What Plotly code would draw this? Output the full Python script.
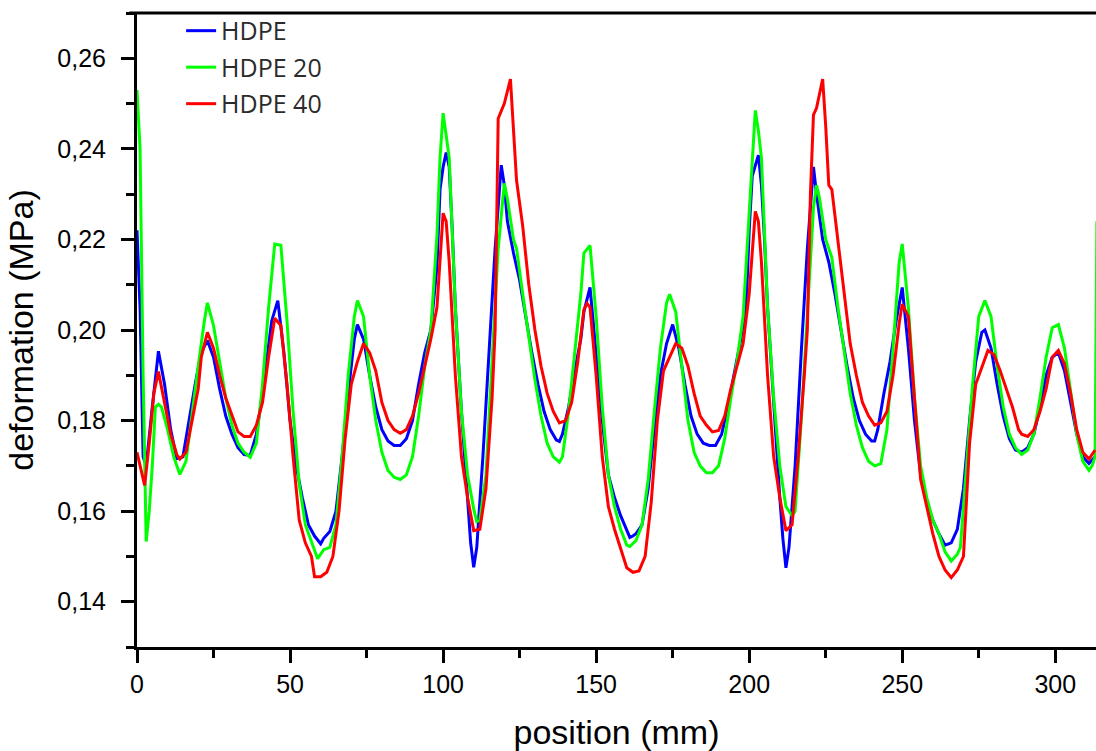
import plotly.graph_objects as go

# ---- data ----
hdpe_x = [0, 1, 2, 3, 5, 7, 9, 11, 13, 15, 17, 19, 21, 23, 25, 27, 29, 31, 33, 35, 37, 39, 41, 43, 44, 46, 48, 50,
          52, 54, 56, 58, 60, 61, 63, 65, 67, 69, 71, 72, 74, 76, 78, 80, 82, 84, 86, 88, 90, 92, 94, 96, 98, 99,
          100, 101, 102, 103, 104, 106, 108, 109, 110, 111, 113, 115, 117, 119, 120, 121, 123, 125, 127, 129, 131,
          133, 135, 137, 138, 139, 141, 143, 145, 146, 148, 150, 152, 154, 156, 158, 160, 161, 162, 163, 165, 167,
          169, 171, 173, 175, 177, 179, 181, 183, 185, 187, 189, 191, 193, 195, 197, 199, 200, 201, 203, 204, 205,
          206, 208, 210, 211, 212, 213, 215, 217, 219, 221, 222, 224, 226, 228, 230, 232, 234, 236, 238, 240, 241,
          242, 244, 246, 248, 250, 252, 254, 256, 258, 260, 262, 264, 266, 268, 270, 272, 274, 276, 277, 279, 281,
          283, 285, 287, 289, 291, 293, 295, 297, 299, 301, 303, 305, 307, 309, 311, 313]
hdpe_y = [0.222, 0.205, 0.172, 0.170, 0.183, 0.1953, 0.188, 0.178, 0.1716, 0.172, 0.180, 0.188, 0.195, 0.1977,
          0.194, 0.187, 0.181, 0.177, 0.174, 0.1725, 0.1723, 0.177, 0.186, 0.196, 0.202, 0.2065, 0.195, 0.180,
          0.170, 0.163, 0.157, 0.1545, 0.1528, 0.154, 0.1555, 0.160, 0.172, 0.186, 0.198, 0.2012, 0.198, 0.190,
          0.183, 0.178, 0.1755, 0.1745, 0.1745, 0.176, 0.180, 0.188, 0.195, 0.200, 0.214, 0.231, 0.236, 0.2392,
          0.236, 0.222, 0.205, 0.182, 0.162, 0.153, 0.1476, 0.152, 0.172, 0.195, 0.218, 0.2364, 0.232, 0.224,
          0.217, 0.211, 0.203, 0.195, 0.188, 0.182, 0.178, 0.1757, 0.1754, 0.177, 0.183, 0.191, 0.198, 0.204,
          0.2094, 0.195, 0.180, 0.168, 0.163, 0.159, 0.156, 0.1542, 0.1545, 0.155, 0.157, 0.165, 0.178, 0.190,
          0.197, 0.2012, 0.196, 0.188, 0.181, 0.177, 0.175, 0.1745, 0.1745, 0.177, 0.183, 0.190, 0.197, 0.205,
          0.222, 0.234, 0.2386, 0.232, 0.220, 0.205, 0.183, 0.163, 0.154, 0.1475, 0.152, 0.170, 0.195, 0.218,
          0.236, 0.230, 0.220, 0.215, 0.208, 0.200, 0.192, 0.185, 0.180, 0.177, 0.1755, 0.1755, 0.178, 0.186,
          0.193, 0.202, 0.2094, 0.196, 0.180, 0.168, 0.162, 0.158, 0.155, 0.1525, 0.153, 0.156, 0.165, 0.180,
          0.193, 0.1995, 0.200, 0.196, 0.188, 0.181, 0.176, 0.1735, 0.173, 0.174, 0.177, 0.183, 0.190, 0.194,
          0.195, 0.191, 0.184, 0.177, 0.172, 0.1705, 0.172]

hdpe20_x = [0, 1, 2, 3, 4, 5, 6, 7, 8, 10, 12, 14, 16, 18, 20, 22, 23, 25, 27, 29, 31, 33, 35, 37, 39, 41, 43, 45,
            47, 49, 51, 53, 55, 57, 59, 61, 63, 65, 67, 69, 71, 72, 74, 76, 78, 80, 82, 84, 86, 88, 90, 92, 94, 96,
            98, 99, 100, 101, 102, 104, 106, 108, 110, 111, 112, 114, 116, 118, 120, 121, 123, 124, 126, 128, 130,
            132, 134, 136, 138, 139, 141, 143, 145, 146, 148, 150, 152, 154, 156, 158, 160, 161, 163, 165, 167, 169,
            171, 173, 174, 176, 178, 180, 182, 184, 186, 188, 190, 192, 194, 196, 198, 200, 202, 203, 204, 206, 208,
            210, 212, 214, 215, 217, 219, 221, 222, 223, 225, 227, 229, 231, 233, 235, 237, 239, 241, 243, 245, 247,
            249, 250, 252, 254, 256, 258, 260, 262, 264, 266, 268, 269, 271, 273, 275, 277, 279, 281, 283, 285, 287,
            289, 291, 293, 295, 297, 299, 301, 303, 305, 307, 309, 311, 312, 313, 313.6]
hdpe20_y = [0.253, 0.240, 0.190, 0.1533, 0.160, 0.170, 0.183, 0.1836, 0.183, 0.178, 0.172, 0.1681, 0.171, 0.182,
            0.192, 0.202, 0.206, 0.201, 0.193, 0.185, 0.179, 0.175, 0.173, 0.1719, 0.175, 0.188, 0.205, 0.219,
            0.2187, 0.202, 0.182, 0.166, 0.157, 0.153, 0.1495, 0.1515, 0.152, 0.157, 0.172, 0.190, 0.203, 0.2065,
            0.203, 0.190, 0.180, 0.173, 0.169, 0.1675, 0.167, 0.168, 0.172, 0.181, 0.192, 0.200, 0.221, 0.238,
            0.2479, 0.243, 0.238, 0.205, 0.182, 0.168, 0.1605, 0.1577, 0.158, 0.168, 0.192, 0.218, 0.2324, 0.229,
            0.220, 0.218, 0.208, 0.198, 0.189, 0.181, 0.175, 0.172, 0.1708, 0.172, 0.182, 0.195, 0.208, 0.217,
            0.2187, 0.203, 0.183, 0.168, 0.161, 0.156, 0.1525, 0.1522, 0.1535, 0.157, 0.167, 0.182, 0.196, 0.206,
            0.2079, 0.204, 0.192, 0.180, 0.173, 0.170, 0.1685, 0.1685, 0.170, 0.176, 0.185, 0.193, 0.203, 0.227,
            0.2485, 0.244, 0.238, 0.205, 0.185, 0.170, 0.161, 0.159, 0.160, 0.180, 0.205, 0.227, 0.232, 0.229,
            0.220, 0.216, 0.205, 0.195, 0.186, 0.179, 0.174, 0.171, 0.170, 0.1705, 0.178, 0.196, 0.215, 0.219,
            0.205, 0.185, 0.170, 0.163, 0.158, 0.155, 0.151, 0.149, 0.1505, 0.152, 0.170, 0.188, 0.203, 0.2065,
            0.203, 0.192, 0.183, 0.177, 0.174, 0.1725, 0.1735, 0.177, 0.185, 0.194, 0.2005, 0.2012, 0.196, 0.186,
            0.177, 0.171, 0.169, 0.170, 0.172, 0.224]

hdpe40_x = [0, 1, 2.5, 4, 5.5, 7, 9, 11, 13, 14, 16, 18, 20, 21, 23, 25, 27, 29, 31, 33, 35, 37, 39, 41, 43, 45, 47,
            49, 51, 53, 55, 57, 58, 60, 62, 64, 66, 68, 70, 72, 74, 76, 78, 80, 82, 84, 86, 88, 90, 92, 94, 96, 98,
            100, 101, 102, 104, 106, 108, 110, 112, 114, 116, 117, 118, 120, 122, 123, 124, 126, 128, 130, 132, 134,
            136, 138, 140, 142, 144, 146, 147, 148, 150, 152, 154, 156, 158, 160, 162, 164, 166, 168, 170, 172, 174,
            176, 178, 180, 182, 184, 186, 188, 190, 192, 194, 196, 198, 200, 202, 203, 204, 206, 208, 210, 212, 214,
            216, 218, 219, 220, 221, 222, 224, 225, 226, 227, 229, 231, 233, 235, 237, 239, 241, 243, 245, 247, 249,
            250, 252, 254, 256, 258, 260, 262, 264, 266, 268, 270, 272, 274, 276, 278, 280, 282, 284, 286, 288, 289,
            291, 293, 295, 297, 299, 301, 303, 305, 307, 309, 311, 313]
hdpe40_y = [0.173, 0.170, 0.1657, 0.175, 0.186, 0.1908, 0.184, 0.177, 0.1725, 0.1715, 0.173, 0.180, 0.187, 0.194,
            0.1995, 0.196, 0.190, 0.185, 0.181, 0.1775, 0.1765, 0.1765, 0.179, 0.184, 0.194, 0.2026, 0.201, 0.188,
            0.172, 0.158, 0.153, 0.150, 0.1455, 0.1455, 0.1465, 0.150, 0.160, 0.176, 0.188, 0.193, 0.197, 0.195,
            0.191, 0.184, 0.180, 0.178, 0.1772, 0.178, 0.181, 0.186, 0.192, 0.198, 0.205, 0.2258, 0.224, 0.215,
            0.190, 0.172, 0.163, 0.1557, 0.156, 0.165, 0.185, 0.200, 0.2467, 0.250, 0.2554, 0.245, 0.233, 0.223,
            0.210, 0.200, 0.192, 0.186, 0.182, 0.1795, 0.180, 0.184, 0.193, 0.2045, 0.2059, 0.205, 0.190, 0.172,
            0.161, 0.156, 0.152, 0.1475, 0.1465, 0.1468, 0.150, 0.162, 0.180, 0.191, 0.194, 0.197, 0.196, 0.192,
            0.186, 0.181, 0.179, 0.1775, 0.1778, 0.181, 0.187, 0.192, 0.197, 0.208, 0.2262, 0.224, 0.215, 0.190,
            0.172, 0.163, 0.1557, 0.157, 0.172, 0.190, 0.200, 0.230, 0.2475, 0.249, 0.2554, 0.245, 0.232, 0.231,
            0.220, 0.208, 0.197, 0.190, 0.184, 0.181, 0.179, 0.1795, 0.182, 0.190, 0.2015, 0.2057, 0.203, 0.185,
            0.167, 0.161, 0.155, 0.150, 0.147, 0.1453, 0.147, 0.150, 0.175, 0.188, 0.192, 0.1955, 0.1945, 0.191,
            0.187, 0.183, 0.178, 0.177, 0.1765, 0.178, 0.182, 0.187, 0.194, 0.1955, 0.1925, 0.186, 0.178, 0.173,
            0.1715, 0.1735]

series_names = ["HDPE", "HDPE 20", "HDPE 40"]
series_colors = ["#0000ff", "#00ff00", "#ff0000"]

x_ticks = [0, 50, 100, 150, 200, 250, 300]
y_ticks = [0.14, 0.16, 0.18, 0.20, 0.22, 0.24, 0.26]

fig = go.Figure()
for i, (xs, ys) in enumerate([(hdpe_x, hdpe_y), (hdpe20_x, hdpe20_y), (hdpe40_x, hdpe40_y)]):
    fig.add_trace(go.Scatter(
        x=xs, y=ys, mode="lines", name=series_names[i], legendgroup=series_names[i],
        line=dict(color=series_colors[i], width=3),
    ))

axis_font = dict(family="Liberation Sans, Arial, sans-serif", size=25, color="#000000")
title_font = dict(family="Liberation Sans, Arial, sans-serif", size=34, color="#000000")

fig.update_layout(
    width=1096, height=751,
    margin=dict(l=137, r=0, t=13, b=104, autoexpand=False),
    paper_bgcolor="white", plot_bgcolor="white",
    separators=", ",
    showlegend=True,
    legend=dict(
        x=0.046, y=1.008, xanchor="left", yanchor="top",
        bgcolor="rgba(0,0,0,0)", borderwidth=0,
        font=dict(family="Open Sans, Noto Sans, sans-serif", size=25, color="#2b2b2b"),
        tracegroupgap=1,
    ),
    xaxis=dict(
        range=[0, 313.3], tickvals=x_ticks, ticktext=[str(v) for v in x_ticks],
        automargin=False,
        showgrid=False, zeroline=False, showline=True, linecolor="black", linewidth=3,
        ticks="outside", ticklen=13, tickwidth=3, tickcolor="black",
        minor=dict(dtick=25, tick0=0, ticks="outside", ticklen=8, tickwidth=3, tickcolor="black"),
        tickfont=axis_font,
        title=dict(text="position (mm)", font=title_font, standoff=28),
    ),
    yaxis=dict(
        range=[0.13, 0.27], tickvals=y_ticks, tickformat=".2f",
        automargin=False,
        showgrid=False, zeroline=False, showline=True, linecolor="black", linewidth=3,
        ticks="outside", ticklen=13, tickwidth=3, tickcolor="black",
        ticklabelstandoff=10,
        minor=dict(dtick=0.01, tick0=0.13, ticks="outside", ticklen=8, tickwidth=3, tickcolor="black"),
        tickfont=axis_font,
        title=dict(text="deformation (MPa)", font=title_font, standoff=14),
    ),
    shapes=[dict(type="line", xref="paper", yref="paper", x0=-0.008, x1=1, y0=1, y1=1,
                 line=dict(color="black", width=3))],
)

# remove the browser's default 8 px page margin so the figure fills the window exactly
fig.write_html(
    "out.html",
    config={"displayModeBar": False},
    post_script="document.body.style.margin='0';document.body.style.overflow='hidden';",
)
